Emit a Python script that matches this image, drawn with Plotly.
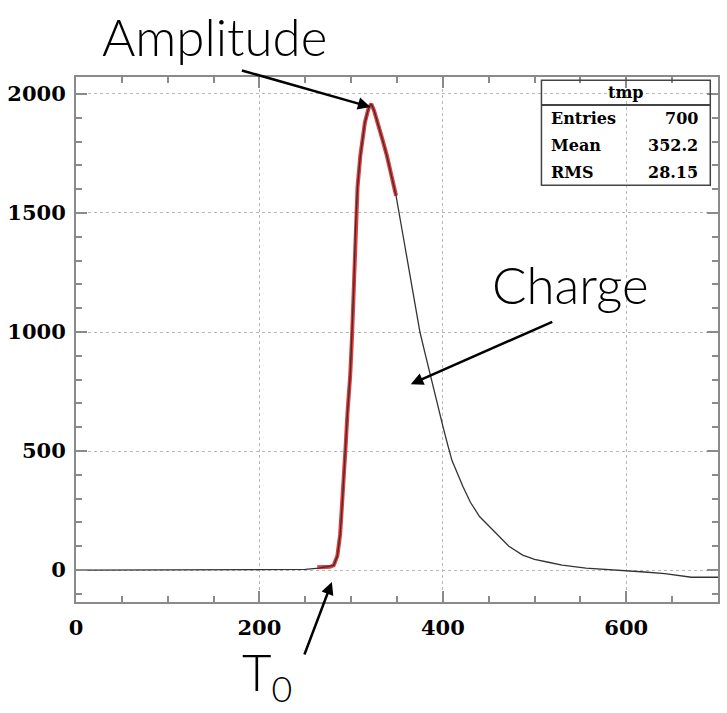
import plotly.graph_objects as go

# Histogram "tmp" (pulse)
hist_x = [0, 50, 100, 150, 200, 250, 265, 275, 281, 285, 288, 290, 292, 294, 296, 299, 301, 303, 305, 307,
          310, 315, 319, 322, 325, 329, 334, 339, 344, 349, 355, 360, 365, 370, 375, 380, 388, 395, 400,
          405, 410, 422, 430, 440, 450, 462, 472, 487, 500, 515, 530, 556, 580, 600, 620, 642, 660, 671,
          685, 700]
hist_y = [0, 0, 0, 2, 0, 3, 8, 14, 20, 60, 150, 260, 400, 520, 660, 820, 985, 1200, 1460, 1610,
          1740, 1880, 1940, 1958, 1930, 1880, 1810, 1740, 1655, 1572, 1440, 1330, 1220, 1110, 1000, 920, 790, 680, 605,
          530, 460, 350, 285, 225, 185, 140, 100, 63, 45, 33, 21, 8, 3, -3, -8, -15, -25, -30,
          -30, -30]

# Fit curve (red)
fit_x = [263, 270, 277, 281, 285, 288, 290, 292, 294, 296, 299, 301, 303, 305, 307, 310, 315, 319, 322,
         325, 329, 334, 339, 344, 349]
fit_y = [12, 15, 14, 20, 60, 150, 260, 400, 520, 660, 820, 985, 1200, 1460, 1610, 1740, 1880, 1940, 1958,
         1930, 1880, 1810, 1740, 1655, 1572]

x_tickvals = [0, 200, 400, 600]
y_tickvals = [0, 500, 1000, 1500, 2000]

stats_title = "tmp"
stats_labels = ["Entries", "Mean", "RMS"]
stats_values = ["700", "352.2", "28.15"]

fig = go.Figure()
fig.add_trace(go.Scatter(x=fit_x, y=fit_y, mode="lines",
                         line=dict(color="rgba(230,35,35,0.9)", width=4), hoverinfo="skip"))
fig.add_trace(go.Scatter(x=hist_x, y=hist_y, mode="lines",
                         line=dict(color="#333333", width=1.3), hoverinfo="skip"))

tickfont = dict(family="DejaVu Serif", size=21, color="black", weight="bold")
axis_common = dict(
    showline=True, linecolor="#8a8a8a", linewidth=2, mirror="ticks",
    ticks="inside", ticklen=11, tickwidth=2, tickcolor="#8a8a8a",
    showgrid=True, gridcolor="#b8b8b8", gridwidth=1, griddash="dot",
    zeroline=False, tickfont=tickfont,
)
fig.update_xaxes(range=[0, 700], tickvals=x_tickvals,
                 minor=dict(dtick=50, ticks="inside", ticklen=6, tickwidth=1.5, tickcolor="#8a8a8a", showgrid=False),
                 ticklabelstandoff=6, **axis_common)
fig.update_yaxes(range=[-134, 2071], tickvals=y_tickvals,
                 minor=dict(dtick=100, ticks="inside", ticklen=6, tickwidth=1.5, tickcolor="#8a8a8a", showgrid=False),
                 ticklabelstandoff=4, **axis_common)

ann_font = dict(family="Lato", size=51, color="black", weight=300)
annotations = [
    dict(xref="paper", yref="paper", x=0.215, y=1.078, text="Amplitude", showarrow=False,
         font=ann_font, xanchor="center", yanchor="middle"),
    dict(xref="paper", yref="paper", x=0.771, y=0.605, text="Charge", showarrow=False,
         font=ann_font, xanchor="center", yanchor="middle"),
    dict(xref="paper", yref="paper", x=0.298, y=-0.140, text="T<sub>0</sub>", showarrow=False,
         font=ann_font, xanchor="center", yanchor="middle"),
    # arrows
    dict(xref="x", yref="y", x=321, y=1945, ax=-130, ay=-37, text="", showarrow=True,
         arrowhead=2, arrowsize=1, arrowwidth=2.5, arrowcolor="black"),
    dict(xref="x", yref="y", x=365, y=781, ax=143, ay=-63, text="", showarrow=True,
         arrowhead=2, arrowsize=1, arrowwidth=2.5, arrowcolor="black"),
    dict(xref="x", yref="y", x=279, y=-50, ax=-28, ay=74, text="", showarrow=True,
         arrowhead=2, arrowsize=1, arrowwidth=2.5, arrowcolor="black"),
]

stat_font = dict(family="DejaVu Serif", size=16, color="black", weight="bold")
annotations.append(dict(xref="paper", yref="paper", x=0.856, y=0.971, text=stats_title, showarrow=False,
                        font=stat_font, xanchor="center", yanchor="middle"))
row_y = [0.920, 0.8686, 0.819]
for lab, val, yy in zip(stats_labels, stats_values, row_y):
    annotations.append(dict(xref="paper", yref="paper", x=0.737, y=yy, text=lab, showarrow=False,
                            font=stat_font, xanchor="left", yanchor="middle"))
    annotations.append(dict(xref="paper", yref="paper", x=0.972, y=yy, text=val, showarrow=False,
                            font=stat_font, xanchor="right", yanchor="middle"))

shapes = [
    dict(type="rect", xref="paper", yref="paper", x0=0.725, x1=0.988, y0=0.794, y1=0.994,
         line=dict(color="#444444", width=1.5)),
    dict(type="line", xref="paper", yref="paper", x0=0.725, x1=0.988, y0=0.9467, y1=0.9467,
         line=dict(color="#444444", width=2)),
]

fig.update_layout(
    width=727, height=713,
    margin=dict(l=73, r=7, t=77, b=111),
    plot_bgcolor="white", paper_bgcolor="white",
    showlegend=False,
    annotations=annotations, shapes=shapes,
)

fig.write_html("out.html")
